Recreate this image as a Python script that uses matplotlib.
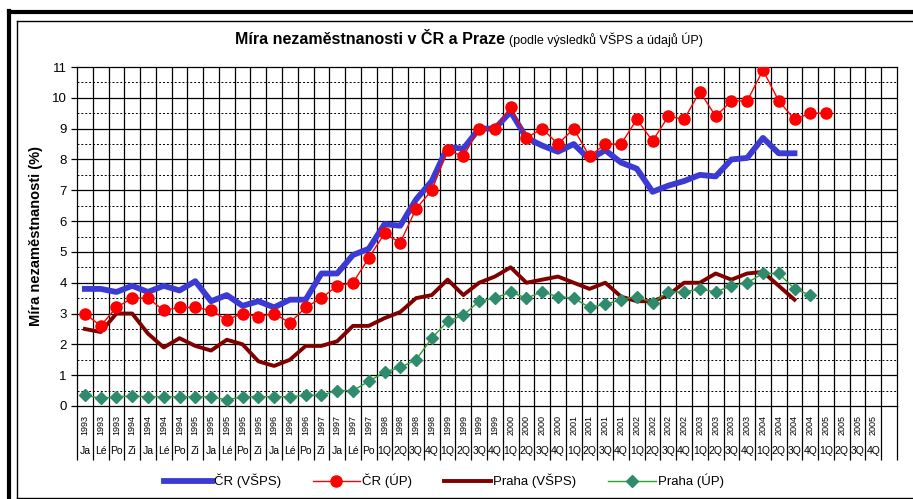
import numpy as np
import matplotlib
matplotlib.use("Agg")
import matplotlib.pyplot as plt
from matplotlib.lines import Line2D

plt.rcParams['font.family'] = ['Liberation Sans', 'DejaVu Sans']

# category labels (seasons 1993-1997, then quarters 1998-2005, one empty slot at the end)
years = ['1993', '1993', '1993', '1994', '1994', '1994', '1994',
         '1995', '1995', '1995', '1995', '1995', '1996', '1996', '1996',
         '1997', '1997', '1997', '1997',
         '1998', '1998', '1998', '1998', '1999', '1999', '1999', '1999',
         '2000', '2000', '2000', '2000', '2001', '2001', '2001', '2001',
         '2002', '2002', '2002', '2002', '2003', '2003', '2003', '2003',
         '2004', '2004', '2004', '2004', '2005', '2005', '2005', '2005', '']
periods = ['Ja', 'Lé', 'Po', 'Zi', 'Ja', 'Lé', 'Po', 'Zi', 'Ja', 'Lé', 'Po', 'Zi',
           'Ja', 'Lé', 'Po', 'Zi', 'Ja', 'Lé', 'Po'] + ['1Q', '2Q', '3Q', '4Q'] * 8 + ['']

cr_vsps = [3.8, 3.8, 3.7, 3.9, 3.7, 3.9, 3.75, 4.05, 3.4, 3.6, 3.25, 3.4, 3.2, 3.45, 3.45,
           4.3, 4.3, 4.9, 5.1, 5.9, 5.85, 6.7, 7.3, 8.4, 8.35, 9.0, 9.0, 9.55,
           8.7, 8.45, 8.25, 8.5, 8.0, 8.3, 7.9, 7.7, 6.95, 7.15, 7.3, 7.5, 7.45,
           8.0, 8.05, 8.7, 8.2, 8.2]
cr_up = [3.0, 2.6, 3.2, 3.5, 3.5, 3.1, 3.2, 3.2, 3.1, 2.8, 3.0, 2.9, 3.0, 2.7, 3.2,
         3.5, 3.9, 4.0, 4.8, 5.6, 5.3, 6.4, 7.0, 8.3, 8.1, 9.0, 9.0, 9.7,
         8.7, 9.0, 8.5, 9.0, 8.1, 8.5, 8.5, 9.3, 8.6, 9.4, 9.3, 10.2, 9.4,
         9.9, 9.9, 10.9, 9.9, 9.3, 9.5, 9.5]
praha_vsps = [2.5, 2.4, 3.0, 3.0, 2.35, 1.9, 2.2, 1.95, 1.8, 2.15, 2.0, 1.45, 1.3, 1.5, 1.95,
              1.95, 2.1, 2.6, 2.6, 2.85, 3.05, 3.5, 3.6, 4.1, 3.6, 4.0, 4.2, 4.5,
              4.0, 4.1, 4.2, 4.0, 3.8, 4.0, 3.55, 3.4, 3.4, 3.6, 4.0, 4.0, 4.3,
              4.1, 4.3, 4.35, 3.9, 3.45]
praha_up = [0.35, 0.25, 0.3, 0.32, 0.3, 0.3, 0.3, 0.3, 0.3, 0.2, 0.3, 0.3, 0.3, 0.3, 0.35,
            0.35, 0.5, 0.5, 0.8, 1.1, 1.25, 1.5, 2.2, 2.75, 2.95, 3.4, 3.5, 3.7,
            3.5, 3.7, 3.55, 3.5, 3.2, 3.3, 3.45, 3.55, 3.35, 3.7, 3.7, 3.8, 3.7,
            3.9, 4.0, 4.3, 4.3, 3.8, 3.6]

fig = plt.figure(figsize=(9.13, 4.99), dpi=100)
ax = fig.add_axes([77 / 913, 1 - 406 / 499, 820 / 913, 339 / 499])

n = len(years)
ax.set_xlim(-0.5, n - 0.5)
ax.set_ylim(0, 11)

# grid: solid at integers, dashed at halves, vertical lines between categories
for v in range(1, 11):
    ax.axhline(v, color='black', lw=0.9, zorder=1)
for v in np.arange(0.5, 11, 1.0):
    ax.axhline(v, color='black', lw=0.7, ls=(0, (2, 2)), zorder=1)
bounds = np.arange(-0.5, n, 1.0)
ax.set_xticks(bounds)
ax.set_xticklabels([])
ax.tick_params(axis='x', length=39, width=0.9, direction='out')
for b in bounds[1:-1]:
    ax.axvline(b, color='black', lw=0.9, zorder=1)

ax.set_yticks(range(0, 12))
ax.tick_params(axis='y', labelsize=9.5, length=4, width=0.9)
for s in ax.spines.values():
    s.set_linewidth(0.9)

x = np.arange(n)
ax.plot(x[:len(cr_vsps)], cr_vsps, color='#3b3bd4', lw=4.2, zorder=3,
        label='ČR (VŠPS)')
ax.plot(x[:len(cr_up)], cr_up, color='#ff0000', lw=1, marker='o', ms=8,
        zorder=4, label='ČR (ÚP)')
ax.plot(x[:len(praha_vsps)], praha_vsps, color='#800000', lw=2.8, zorder=3,
        label='Praha (VŠPS)')
ax.plot(x[:len(praha_up)], praha_up, color='#2ca02c', lw=1, marker='D', ms=6,
        mfc='#2e8b6e', mec='#2e8b6e', zorder=4, label='Praha (ÚP)')

trans = ax.get_xaxis_transform()
for i in range(n):
    ax.text(i, -0.056, years[i], rotation=90, ha='center', va='center',
            fontsize=6.5, transform=trans, clip_on=False)
    ax.text(i, -0.133, periods[i], ha='center', va='center',
            fontsize=7.5, transform=trans, clip_on=False)

ax.set_ylabel('Míra nezaměstnanosti (%)', fontsize=10.5, fontweight='bold', labelpad=6)

fig.text(505 / 913, 1 - 40 / 499, 'Míra nezaměstnanosti v ČR a Praze',
         ha='right', va='center', fontsize=11.5, fontweight='bold')
fig.text(509 / 913, 1 - 40 / 499, '(podle výsledků VŠPS a údajů ÚP)',
         ha='left', va='center', fontsize=9)

fig.legend(loc='center', bbox_to_anchor=(444 / 913, 1 - 481 / 499), ncol=4,
           frameon=False, fontsize=9.5, handlelength=3.6, handletextpad=0.15,
           columnspacing=2.4)

# chart frame
fig.add_artist(Line2D([9 / 913, 9 / 913], [0, 1 - 11 / 499], color='black', lw=3,
                      transform=fig.transFigure))
fig.add_artist(Line2D([9 / 913, 1], [1 - 12 / 499, 1 - 12 / 499], color='black', lw=3,
                      transform=fig.transFigure))
fig.add_artist(Line2D([17 / 913, 17 / 913], [1 / 499, 1 - 21 / 499], color='black', lw=1,
                      transform=fig.transFigure))
fig.add_artist(Line2D([17 / 913, 1], [1 - 21 / 499, 1 - 21 / 499], color='black', lw=1,
                      transform=fig.transFigure))
fig.add_artist(Line2D([17 / 913, 1], [1.5 / 499, 1.5 / 499], color='black', lw=1,
                      transform=fig.transFigure))

fig.savefig('out.png', dpi=100)
